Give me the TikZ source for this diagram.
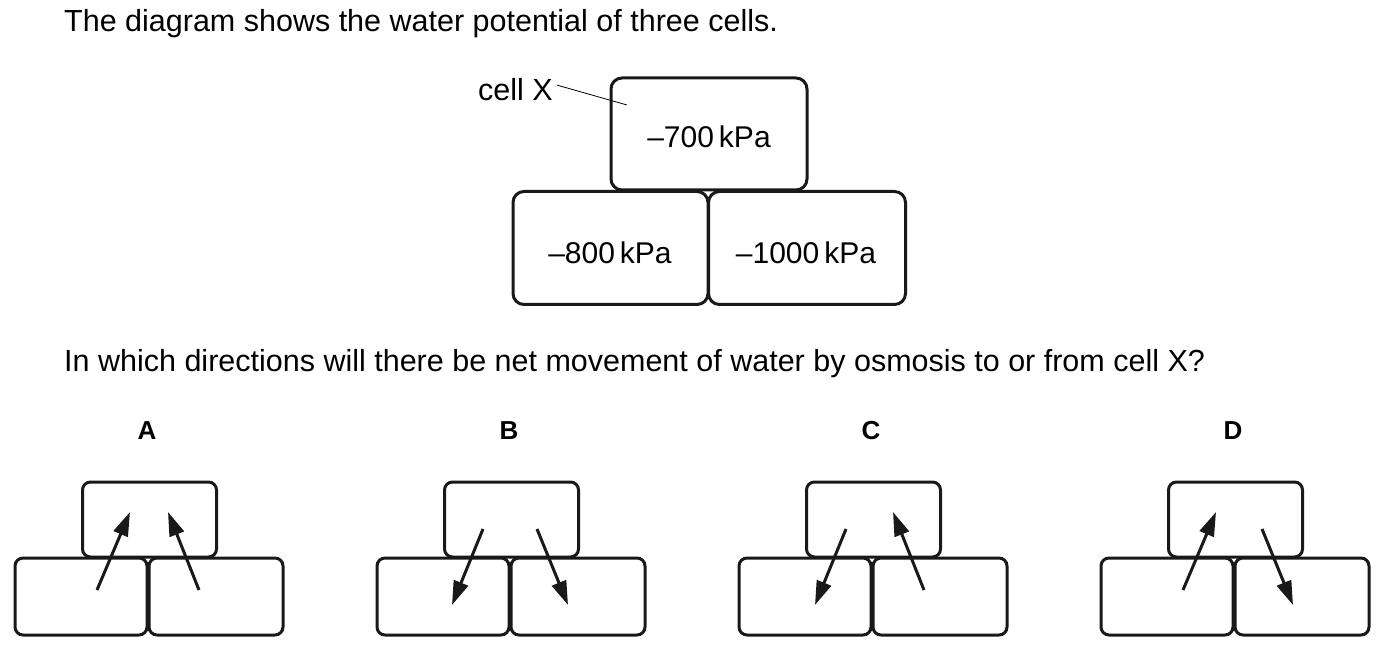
\documentclass[tikz,border=0pt]{standalone}
\usepackage{fontspec}
\setmainfont{Liberation Sans}
\usetikzlibrary{arrows.meta}
\begin{document}
\begin{tikzpicture}[x=1pt,y=-1pt,
  bigcell/.style={draw=black!90,line width=3pt,rounded corners=11pt,inner sep=0pt},
  celltxt/.style={inner sep=0pt,font=\fontsize{30}{35}\selectfont},
  smallcell/.style={draw=black!90,line width=3pt,rounded corners=8pt,inner sep=0pt},
  txt/.style={anchor=base west,inner sep=0pt,font=\fontsize{30.5}{35}\selectfont},
  lbl/.style={anchor=base,inner sep=0pt,font=\fontsize{26}{30}\selectfont\bfseries},
  flow/.style={line width=3pt,black!90,-{Triangle[length=24pt,width=15pt]}}]
\useasboundingbox (0,0) rectangle (1382,652);
\node[txt] (title) at (64,32) {The diagram shows the water potential of three cells.};
\node[bigcell,minimum width=196pt,minimum height=112pt] (X) at (709,134) {};
\node[celltxt] (tX) at (709,137) {\textendash700\,kPa};
\node[bigcell,minimum width=195pt,minimum height=113pt] (L) at (610.5,248) {};
\node[celltxt] (tL) at (610,253) {\textendash800\,kPa};
\node[bigcell,minimum width=197pt,minimum height=113pt] (R) at (807,248) {};
\node[celltxt] (tR) at (806,253) {\textendash1000\,kPa};
\node[txt] (cx) at (478,101) {cell X};
\coordinate (cxe) at (627,105);
\draw[line width=0.8pt] (cx.east) ++(4,-5) coordinate (cxs) -- (cxe);
\node[txt] (q) at (64,371) {In which directions will there be net movement of water by osmosis to or from cell X?};
\foreach \n/\dx in {A/0,B/362,C/724,D/1086}{
  \node[lbl] (lab\n) at (147+\dx,439) {\n};
  \node[smallcell,minimum width=134pt,minimum height=75pt] (t\n) at (149.5+\dx,519.5) {};
  \node[smallcell,minimum width=132pt,minimum height=77pt] (l\n) at (81+\dx,596.5) {};
  \node[smallcell,minimum width=134pt,minimum height=77pt] (r\n) at (216+\dx,596.5) {};
}
% A: both up
\coordinate (a1) at (97,590); \coordinate (a2) at (130,512);
\coordinate (a3) at (199,590); \coordinate (a4) at (168,512);
\draw[flow] (a1) -- (a2);
\draw[flow] (a3) -- (a4);
% B: both down
\coordinate (b1) at (121+362,529); \coordinate (b2) at (90+362,605);
\coordinate (b3) at (175+362,529); \coordinate (b4) at (206+362,605);
\draw[flow] (b1) -- (b2);
\draw[flow] (b3) -- (b4);
% C: left down, right up
\coordinate (c1) at (122+724,529); \coordinate (c2) at (91+724,605);
\coordinate (c3) at (200+724,590); \coordinate (c4) at (169+724,512);
\draw[flow] (c1) -- (c2);
\draw[flow] (c3) -- (c4);
% D: left up, right down
\coordinate (d1) at (97+1086,590); \coordinate (d2) at (130+1086,512);
\coordinate (d3) at (176+1086,529); \coordinate (d4) at (207+1086,605);
\draw[flow] (d1) -- (d2);
\draw[flow] (d3) -- (d4);
\end{tikzpicture}
\end{document}
